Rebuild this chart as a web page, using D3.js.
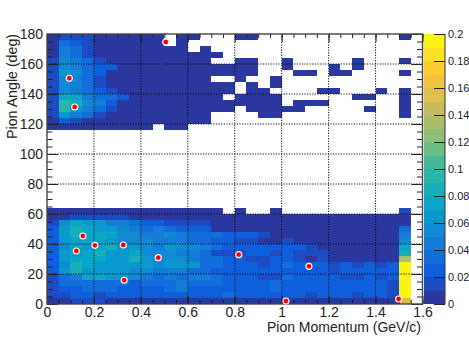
<!DOCTYPE html>
<meta charset="utf-8">
<style>
body { margin: 0; background: #fff; }
svg { display: block; }
text { font-family: "Liberation Sans", sans-serif; fill: #222; }
.axis path { display: none; }
.axis line { stroke: #222; }
.grid line { stroke: #111; stroke-dasharray: 1.2 1.4; }
</style>
<body></body>
<script src="https://cdnjs.cloudflare.com/ajax/libs/d3/7.8.5/d3.min.js"></script>
<script>

// bin contents in hundredths, 0 = empty bin. rows run top to bottom, columns by momentum
var upperRows = [
  [1,2,2,2,1,1,1,1,1,1,0,1,1,0,0,0,1,1,0,0,0,0,0,0,0,0,0,0,0,0,1],
  [1,4,3,2,1,1,1,1,1,1,0,1,0,0,0,0,0,0,0,0,0,0,0,0,0,0,0,0,0,0,0],
  [1,5,4,2,1,1,1,1,1,1,1,1,0,1,0,0,0,0,0,0,0,0,0,0,0,0,0,0,0,0,0],
  [1,5,4,2,1,1,1,1,1,1,1,1,1,1,1,0,0,0,0,0,0,0,0,0,0,0,0,0,0,0,0],
  [2,6,5,4,2,1,1,1,1,1,1,1,1,1,0,0,1,1,0,0,1,0,0,0,0,0,1,0,0,0,1],
  [2,6,5,4,3,3,1,1,1,1,1,1,1,1,1,1,1,1,0,0,1,0,0,0,1,0,1,0,0,0,0],
  [2,7,6,4,3,1,1,1,1,1,1,1,1,1,1,1,1,1,0,0,0,1,1,0,1,1,0,0,0,0,1],
  [2,6,5,4,2,1,1,1,1,1,1,1,1,1,0,0,1,0,0,1,0,0,0,0,0,0,0,0,0,0,0],
  [2,6,5,4,2,1,1,1,1,1,1,1,1,1,1,1,0,1,0,1,0,0,0,0,0,0,0,0,0,0,0],
  [2,6,5,4,3,2,1,1,1,1,1,1,1,1,1,1,0,1,1,0,0,0,0,1,1,0,0,0,1,0,1],
  [2,8,8,5,4,4,3,1,1,1,1,1,1,1,1,0,1,1,1,1,0,0,0,0,0,0,1,1,0,0,1],
  [2,10,9,6,5,3,1,1,1,1,1,1,1,1,1,1,1,1,1,1,0,1,1,1,0,0,0,0,0,0,1],
  [2,10,7,5,4,2,1,1,1,1,1,1,1,1,1,1,0,1,1,1,1,1,0,0,0,0,0,1,0,0,1],
  [2,7,5,4,2,1,1,1,1,1,1,1,1,1,0,0,0,0,1,1,0,0,0,0,0,0,0,0,0,0,1],
  [1,3,2,1,1,1,1,1,1,1,1,1,1,1,0,0,0,0,0,0,0,0,0,0,0,0,0,0,0,0,0],
  [1,1,1,1,1,1,1,1,1,0,1,1,0,0,0,0,0,0,0,0,0,0,0,0,0,0,0,0,0,0,0]
];
var lowerRows = [
  [1,1,1,1,1,1,1,1,1,1,1,1,1,1,1,0,1,0,0,1,0,0,0,0,0,0,0,0,0,0,2],
  [1,1,2,2,2,2,2,1,1,1,1,1,1,1,1,1,1,1,1,1,1,1,1,1,1,1,1,1,1,1,1],
  [2,6,8,7,7,5,5,4,3,3,2,2,2,2,1,1,1,1,1,1,1,1,1,1,1,1,1,1,1,1,1],
  [3,7,9,8,7,7,6,5,4,5,4,3,3,3,1,1,1,1,1,1,1,1,1,1,1,1,1,1,1,1,4],
  [3,7,9,8,8,8,6,6,5,5,6,5,4,4,4,3,3,3,2,1,1,1,1,1,1,1,1,1,1,1,5],
  [3,7,8,8,8,7,6,6,6,5,5,5,4,4,3,3,2,2,1,1,2,1,1,1,1,1,1,1,1,1,6],
  [3,6,8,7,8,9,7,7,6,5,7,6,6,5,4,3,3,3,3,3,3,3,2,1,1,1,1,1,1,1,8],
  [3,7,7,8,9,7,7,8,6,6,6,5,5,4,2,2,2,3,3,2,3,2,2,2,1,1,1,1,1,1,9],
  [3,7,8,8,8,7,7,9,7,6,6,6,5,4,4,3,3,2,2,3,3,2,1,2,1,1,1,1,1,1,14],
  [3,6,9,8,7,7,7,7,7,6,7,7,7,4,4,3,3,3,2,3,4,3,3,3,2,3,2,3,2,3,20],
  [3,7,9,7,7,7,7,6,6,5,5,5,4,4,3,3,3,3,3,3,3,3,3,3,2,3,3,3,3,3,20],
  [2,4,5,8,8,7,7,6,5,4,5,4,5,5,4,3,3,3,2,2,4,3,3,3,3,2,2,3,2,3,20],
  [2,4,4,4,4,4,4,3,4,4,4,5,4,4,4,3,3,3,3,4,3,3,3,3,3,3,3,3,3,2,20],
  [2,3,3,4,4,4,3,3,3,3,4,5,3,3,3,3,3,3,3,4,3,3,3,3,3,3,3,3,3,2,20],
  [2,2,3,3,2,3,3,3,3,3,3,3,3,3,3,4,3,3,3,3,3,3,2,3,3,3,2,3,3,2,20],
  [1,1,2,2,2,1,1,1,1,1,1,1,1,1,1,1,1,1,1,1,1,1,1,1,1,1,1,1,1,1,16]
];
var upperTop = 180, lowerTop = 64;
var binP = 0.05, binA = 4;

var dotP = [0.506, 0.095, 0.118, 0.153, 0.125, 0.204, 0.325, 0.329, 0.474, 0.817, 1.116, 1.018, 1.498];
var dotA = [174.7, 150.5, 131.3, 45.3, 35.3, 39.1, 39.3, 15.8, 30.9, 32.9, 25.1, 2, 3.3];

var xMajor = [0, 0.2, 0.4, 0.6, 0.8, 1, 1.2, 1.4, 1.6];
var yMajor = [0, 20, 40, 60, 80, 100, 120, 140, 160, 180];
var zMajor = [0, 0.02, 0.04, 0.06, 0.08, 0.1, 0.12, 0.14, 0.16, 0.18, 0.2];

// ROOT kBird
var birdStops = ["#352a87", "#0f5cdd", "#1481d6", "#06a4ca", "#2eb7a4", "#87bf77", "#d1bb59", "#fec832", "#f9fb0e"];

var W = 469, H = 338;
var left = 47, right = 422.5, top_ = 34, bottom = 304;

var x = d3.scaleLinear().domain([0, 1.6]).range([left, right]);
var y = d3.scaleLinear().domain([0, 180]).range([bottom, top_]);
var z = d3.scaleLinear().domain([0, 0.2]).range([bottom, top_]);

var bird = d3.scaleLinear().domain(d3.range(9).map(function(i) { return i / 8; })).range(birdStops);
var palette = d3.range(20).map(function(i) { return bird(Math.min(1, (i + 0.7) / 20)); });
var color = d3.scaleQuantize().domain([0, 0.2]).range(palette);

var svg = d3.select("body").append("svg").attr("width", W).attr("height", H);

function cells(rows, topAngle) {
  var out = [];
  rows.forEach(function(row, r) {
    row.forEach(function(v, c) {
      if (v > 0) out.push({ p: c * binP, a: topAngle - r * binA, v: (v - 0.5) / 100 });
    });
  });
  return out;
}

svg.append("g").selectAll("rect")
  .data(cells(upperRows, upperTop).concat(cells(lowerRows, lowerTop)))
  .enter().append("rect")
    .attr("x", function(d) { return x(d.p); })
    .attr("y", function(d) { return y(d.a); })
    .attr("width", function(d) { return x(d.p + binP) - x(d.p); })
    .attr("height", function(d) { return y(d.a - binA) - y(d.a); })
    .attr("fill", function(d) { return color(d.v); })
    .attr("shape-rendering", "crispEdges");

// dotted grid
svg.append("g").attr("class", "grid").selectAll("line")
  .data(xMajor.slice(1, -1))
  .enter().append("line")
    .attr("x1", function(d) { return x(d); }).attr("x2", function(d) { return x(d); })
    .attr("y1", top_).attr("y2", bottom);
svg.append("g").attr("class", "grid").selectAll("line")
  .data(yMajor.slice(1, -1))
  .enter().append("line")
    .attr("y1", function(d) { return y(d); }).attr("y2", function(d) { return y(d); })
    .attr("x1", left).attr("x2", right);

// axes, ticks point inward on all four sides
var xMinor = d3.range(0, 1.6001, 0.05);
var yMinor = d3.range(0, 180.01, 5);
function addAxis(axis, tr) {
  return svg.append("g").attr("class", "axis").attr("transform", tr).call(axis);
}
addAxis(d3.axisBottom(x).tickValues(xMinor).tickSize(-4).tickFormat(""), "translate(0," + bottom + ")");
addAxis(d3.axisTop(x).tickValues(xMinor).tickSize(-4).tickFormat(""), "translate(0," + top_ + ")");
addAxis(d3.axisLeft(y).tickValues(yMinor).tickSize(-5.5).tickFormat(""), "translate(" + left + ",0)");
addAxis(d3.axisRight(y).tickValues(yMinor).tickSize(-5.5).tickFormat(""), "translate(" + right + ",0)");
addAxis(d3.axisTop(x).tickValues(xMajor).tickSize(-8).tickFormat(""), "translate(0," + top_ + ")");
addAxis(d3.axisRight(y).tickValues(yMajor).tickSize(-11).tickFormat(""), "translate(" + right + ",0)");

var xAxis = addAxis(d3.axisBottom(x).tickValues(xMajor).tickSize(-8).tickFormat(d3.format("~g")), "translate(0," + bottom + ")");
xAxis.selectAll("text").attr("y", 3).attr("dy", "0.71em").style("font-size", "14px");
var yAxis = addAxis(d3.axisLeft(y).tickValues(yMajor).tickSize(-11).tickFormat(d3.format("d")), "translate(" + left + ",0)");
yAxis.selectAll("text").attr("x", -4).style("font-size", "14px");

svg.append("rect")
  .attr("x", left).attr("y", top_)
  .attr("width", right - left).attr("height", bottom - top_)
  .attr("fill", "none").attr("stroke", "#444").attr("stroke-width", 1.4);

svg.append("text").attr("x", 421).attr("y", 332).attr("text-anchor", "end")
  .style("font-size", "14px").text("Pion Momentum (GeV/c)");
svg.append("text").attr("transform", "translate(17,34) rotate(-90)").attr("text-anchor", "end")
  .style("font-size", "14.2px").text("Pion Angle (deg)");

// colour bar
var zLeft = 424, zRight = 445;
svg.append("g").selectAll("rect")
  .data(palette)
  .enter().append("rect")
    .attr("x", zLeft)
    .attr("y", function(d, i) { return z((i + 1) / 100); })
    .attr("width", zRight - zLeft)
    .attr("height", function(d, i) { return z(i / 100) - z((i + 1) / 100); })
    .attr("fill", function(d) { return d; })
    .attr("shape-rendering", "crispEdges");
var zAxis = addAxis(d3.axisRight(z).tickValues(zMajor).tickSize(-11).tickFormat(d3.format("~g")), "translate(" + zRight + ",0)");
zAxis.selectAll("text").attr("x", 3).style("font-size", "11px");
svg.append("line").attr("x1", zRight).attr("x2", zRight).attr("y1", top_).attr("y2", bottom).attr("stroke", "#333");

// red points
svg.append("g").selectAll("circle")
  .data(dotP)
  .enter().append("circle")
    .attr("cx", function(d) { return x(d); })
    .attr("cy", function(d, i) { return y(dotA[i]); })
    .attr("r", 3)
    .attr("fill", "#f00")
    .attr("stroke", "#fff")
    .attr("stroke-width", 1.1);

</script>
